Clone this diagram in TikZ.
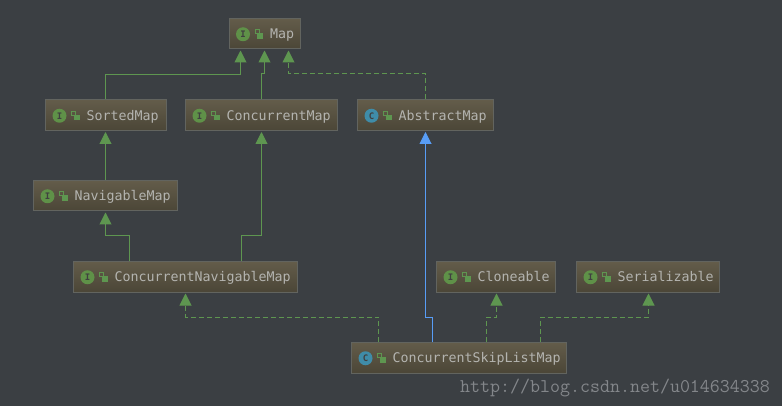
\documentclass[tikz,border=0pt]{standalone}
\usepackage{fontspec}
\setmonofont{DejaVu Sans Mono}
\newfontfamily\markfont{Latin Modern Mono}
\usetikzlibrary{arrows.meta,calc}
\definecolor{bgc}{HTML}{3B3F43}
\definecolor{boxtop}{HTML}{635C4A}
\definecolor{boxbot}{HTML}{4B4637}
\definecolor{boxedge}{HTML}{62645F}
\definecolor{txtc}{HTML}{B4B4B0}
\definecolor{inhg}{HTML}{5E9650}
\definecolor{inhb}{HTML}{589DF6}
\definecolor{icong}{HTML}{5F9148}
\definecolor{iconc}{HTML}{3F8CA8}
\definecolor{marktxt}{HTML}{83868A}
\tikzset{
  x=1pt,y=-1pt,
  box/.style={draw=boxedge,line width=1pt,top color=boxtop,bottom color=boxbot,rectangle,inner sep=0pt,font=\ttfamily\fontsize{13.3}{13.3}\selectfont,text=txtc},
  ifaceicon/.style={circle,fill=icong,minimum size=14pt,inner sep=0pt,font=\ttfamily\bfseries\fontsize{9}{9}\selectfont,text=black!75},
  classicon/.style={circle,fill=iconc,minimum size=14pt,inner sep=0pt,font=\ttfamily\bfseries\fontsize{9}{9}\selectfont,text=black!75},
  lockpart/.style={inhg,line width=1pt},
  ext/.style={draw=inhg,line width=1pt,-{Triangle[length=12pt,width=12pt,fill=inhg]},shorten >=1pt},
  impl/.style={ext,dash pattern=on 5pt off 3pt},
  extb/.style={draw=inhb,line width=1pt,-{Triangle[length=12pt,width=12pt,fill=inhb]},shorten >=1pt},
}
% name, x1, y1, x2, y2, icon style, letter, text
\newcommand{\umlbox}[8]{%
  \node[box,minimum width=#4-#2,minimum height=#5-#3] (#1) at ({(#2+#4)/2},{(#3+#5)/2})
    {\makebox[\dimexpr#4pt-#2pt\relax][l]{\hspace{41pt}\raisebox{-4.8pt}[0pt][0pt]{#8}}};
  \node[#6] (#1-icon) at ($(#1.west)+(14.5,0.5)$) {#7};
  \fill[lockpart,draw=none] ($(#1.west)+(28.5,-0.5)$) rectangle ($(#1.west)+(34.5,5)$);
  \draw[lockpart] ($(#1.west)+(29,0)$) -- ($(#1.west)+(26.5,0)$) -- ($(#1.west)+(26.5,-4)$) -- ($(#1.west)+(30.5,-4)$) -- ($(#1.west)+(30.5,-0.5)$);
}
\begin{document}
\begin{tikzpicture}
\useasboundingbox (0,0) rectangle (782,406);
\fill[bgc] (0,0) rectangle (782,406);
\umlbox{map}{229}{18.5}{300}{49}{ifaceicon}{I}{Map}
\umlbox{sorted}{45.5}{100}{166}{130.5}{ifaceicon}{I}{SortedMap}
\umlbox{conc}{185.5}{100}{337}{130.5}{ifaceicon}{I}{ConcurrentMap}
\umlbox{abstract}{357.5}{100}{493.5}{130.5}{classicon}{C}{AbstractMap}
\umlbox{nav}{33.5}{180.5}{177}{211}{ifaceicon}{I}{NavigableMap}
\umlbox{cnm}{73.5}{261.5}{297}{292}{ifaceicon}{I}{ConcurrentNavigableMap}
\umlbox{clone}{436.5}{261.5}{555.5}{292}{ifaceicon}{I}{Cloneable}
\umlbox{ser}{576.5}{261.5}{719.5}{292}{ifaceicon}{I}{Serializable}
\umlbox{skip}{351.5}{342.5}{566.5}{373}{classicon}{C}{ConcurrentSkipListMap}
% connectors
\draw[ext] ([xshift=-0.25pt]sorted.north) |- ([xshift=-24pt,yshift=-25.5pt]map.south) -- ([xshift=-24pt]map.south);
\draw[ext] ([xshift=0.25pt]conc.north) -- ++(0,-25.5) -| (map.south);
\draw[impl] (abstract.north) -- ++(0,-25.5) -| ([xshift=24pt]map.south);
\draw[ext] ([xshift=0.25pt]nav.north) -- ([xshift=0.25pt]nav.north |- sorted.south);
\draw[ext] ([xshift=-55.75pt]cnm.north) -- ++(0,-25) -| ([xshift=0.25pt]nav.south);
\draw[ext] ([xshift=56.25pt]cnm.north) -- ++(0,-25) -| ([xshift=0.25pt]conc.south);
\draw[impl] ([xshift=-80.5pt]skip.north) -- ++(0,-25) -| ([xshift=0.25pt]cnm.south);
\draw[extb] ([xshift=-26.5pt]skip.north) -- ++(0,-25) -| (abstract.south);
\draw[impl] ([xshift=27.5pt]skip.north) -- ++(0,-25) -| ([xshift=0.5pt]clone.south);
\draw[impl] ([xshift=81.5pt]skip.north) -- ++(0,-25) -| ([xshift=0.5pt]ser.south);
\node[anchor=base west,inner sep=0pt,text=marktxt,font=\markfont\fontsize{19.4}{19.4}\selectfont] (mark) at (460,392) {http://blog.csdn.net/u014634338};
\end{tikzpicture}
\end{document}
